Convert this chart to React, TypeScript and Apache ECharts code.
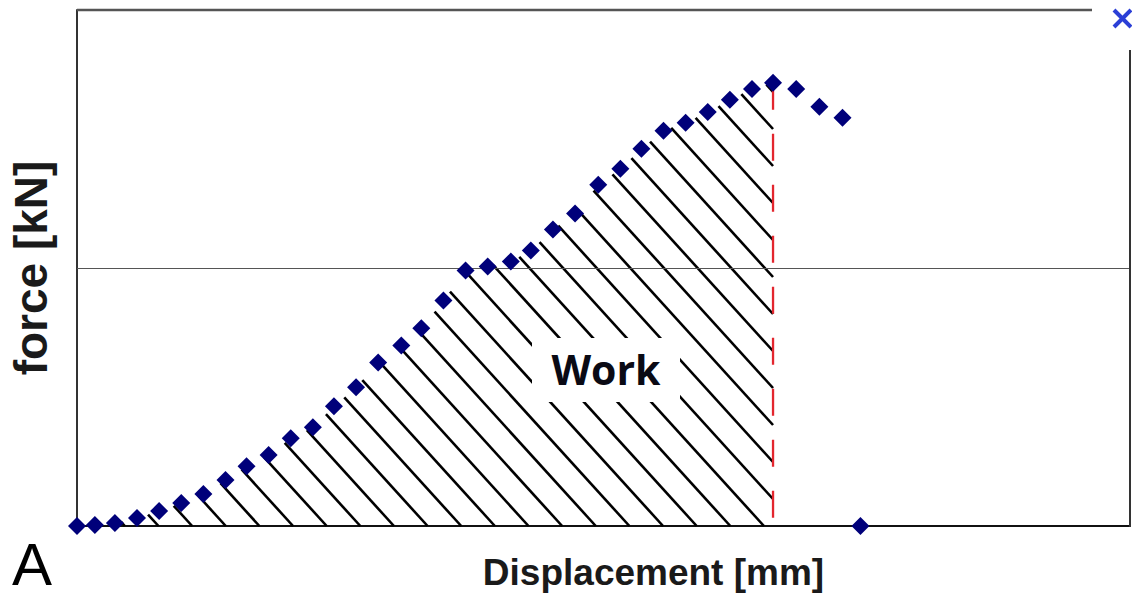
import React, { useEffect, useRef } from "react";
import * as echarts from "echarts";

// Displacement [mm] and force [kN]
const displacement = [
  0, 0.17, 0.36, 0.57, 0.78, 0.99, 1.2, 1.41, 1.61, 1.82, 2.03, 2.24, 2.44,
  2.65, 2.86, 3.08, 3.27, 3.48, 3.69, 3.9, 4.12, 4.31, 4.52, 4.73, 4.95, 5.16,
  5.36, 5.57, 5.78, 5.99, 6.2, 6.41, 6.61, 6.83, 7.05, 7.27, 7.44,
];
const force = [
  0, 0.004, 0.012, 0.031, 0.058, 0.089, 0.124, 0.178, 0.232, 0.275, 0.34,
  0.383, 0.464, 0.538, 0.634, 0.7, 0.766, 0.874, 0.99, 1.006, 1.025, 1.068,
  1.149, 1.211, 1.323, 1.385, 1.462, 1.532, 1.563, 1.605, 1.652, 1.694, 1.718,
  1.694, 1.625, 1.582, 0,
];
const peakIndex = 32;
const xRange = [0, 10];
const yRange = [0, 2];
const midLineValue = 1;
const xTitle = "Displacement [mm]";
const yTitle = "force [kN]";
const workLabel = "Work";
const panelLabel = "A";

export default function App() {
  const ref = useRef<HTMLDivElement>(null);
  useEffect(() => {
    document.body.style.margin = "0";
    if (!ref.current) return;
    const chart = echarts.init(ref.current, null, { renderer: "svg" });
    const points = displacement.map((d, i) => [d, force[i]]);
    const peak = [displacement[peakIndex], force[peakIndex]];

    const renderHatch = (params: any, api: any) => {
      const poly: number[][] = [];
      for (let i = 0; i <= peakIndex; i++) poly.push(api.coord([displacement[i], force[i]]));
      const base = api.coord([displacement[peakIndex], 0]);
      const origin = api.coord([displacement[0], 0]);
      poly.push(base, origin);
      const s = 1.1;
      const dc = 37;
      const c0 = base[1] - 27 - s * base[0];
      let cmin = Infinity, cmax = -Infinity;
      poly.forEach((p) => {
        const c = p[1] - s * p[0];
        cmin = Math.min(cmin, c);
        cmax = Math.max(cmax, c);
      });
      const children: any[] = [];
      const k0 = Math.ceil((cmin - c0) / dc);
      const k1 = Math.floor((cmax - c0) / dc);
      for (let k = k0; k <= k1; k++) {
        const c = c0 + k * dc;
        const xs: number[] = [];
        for (let e = 0; e < poly.length; e++) {
          const a = poly[e];
          const b = poly[(e + 1) % poly.length];
          const fa = a[1] - s * a[0] - c;
          const fb = b[1] - s * b[0] - c;
          if (fa > 0 !== fb > 0) {
            const t = fa / (fa - fb);
            xs.push(a[0] + t * (b[0] - a[0]));
          }
        }
        xs.sort((m, n) => m - n);
        for (let j = 0; j + 1 < xs.length; j += 2) {
          const x1 = xs[j], x2 = xs[j + 1];
          children.push({
            type: "line",
            shape: { x1, y1: s * x1 + c, x2, y2: s * x2 + c },
            style: { stroke: "#000", lineWidth: 2.6 },
          });
        }
      }
      return { type: "group", children };
    };

    chart.setOption({
      animation: false,
      backgroundColor: "#fff",
      grid: { left: 77, right: 2, top: 10, bottom: 69, containLabel: false },
      xAxis: {
        type: "value",
        min: xRange[0],
        max: xRange[1],
        axisLine: { show: true, onZero: false, lineStyle: { color: "#111", width: 2 } },
        axisTick: { show: false },
        axisLabel: { show: false },
        splitLine: { show: false },
        name: xTitle,
        nameLocation: "middle",
        nameGap: 28,
        nameTextStyle: {
          fontFamily: "Liberation Sans",
          fontWeight: "bold",
          fontSize: 37,
          color: "#1a1a1a",
          verticalAlign: "top",
          padding: [0, 0, 0, 100],
        },
      },
      yAxis: {
        type: "value",
        min: yRange[0],
        max: yRange[1],
        axisLine: { show: true, lineStyle: { color: "#333", width: 2 } },
        axisTick: { show: false },
        axisLabel: { show: false },
        splitLine: { show: false },
        name: yTitle,
        nameLocation: "middle",
        nameGap: 23,
        nameRotate: 90,
        nameTextStyle: {
          fontFamily: "Liberation Sans",
          fontWeight: "bold",
          fontSize: 46,
          color: "#1a1a1a",
        },
      },
      series: [
        {
          type: "custom",
          renderItem: renderHatch,
          data: [[0, 0]],
          clip: false,
          z: 2,
          silent: true,
        },
        {
          type: "line",
          data: [peak, [peak[0], 0]],
          symbol: "none",
          lineStyle: { color: "#e3262e", width: 2.3, type: [27, 24] },
          z: 3,
          markLine: {
            silent: true,
            symbol: "none",
            label: { show: false },
            lineStyle: { color: "#555", width: 1.2, type: "solid" },
            data: [{ yAxis: midLineValue }],
          },
        },
        {
          type: "scatter",
          data: points,
          symbol: "diamond",
          symbolSize: 18,
          itemStyle: { color: "#00007a", opacity: 1 },
          clip: false,
          z: 5,
        },
      ],
      graphic: [
        {
          type: "line",
          shape: { x1: 77, y1: 10, x2: 1092, y2: 10 },
          style: { stroke: "#555", lineWidth: 2.5 },
          z: 10,
        },
        {
          type: "line",
          shape: { x1: 1130, y1: 50, x2: 1130, y2: 527 },
          style: { stroke: "#333", lineWidth: 2 },
          z: 10,
        },
        {
          type: "line",
          shape: { x1: 1114, y1: 10, x2: 1131, y2: 27 },
          style: { stroke: "#2b3fd6", lineWidth: 4 },
          z: 10,
        },
        {
          type: "line",
          shape: { x1: 1114, y1: 27, x2: 1131, y2: 10 },
          style: { stroke: "#2b3fd6", lineWidth: 4 },
          z: 10,
        },
        {
          type: "rect",
          shape: { x: 532, y: 338, width: 148, height: 64 },
          style: { fill: "#fff" },
          z: 20,
        },
        {
          type: "text",
          x: 606,
          y: 369,
          style: {
            text: workLabel,
            font: 'bold 41px "Open Sans"',
            fill: "#0a0a14",
            align: "center",
            verticalAlign: "middle",
          },
          z: 21,
        },
        {
          type: "text",
          x: 12,
          y: 564,
          style: {
            text: panelLabel,
            font: '60px "Liberation Sans"',
            fill: "#000",
            align: "left",
            verticalAlign: "middle",
          },
          z: 21,
        },
      ],
    });
    return () => chart.dispose();
  }, []);
  return <div ref={ref} style={{ width: 1132, height: 596 }} />;
}
